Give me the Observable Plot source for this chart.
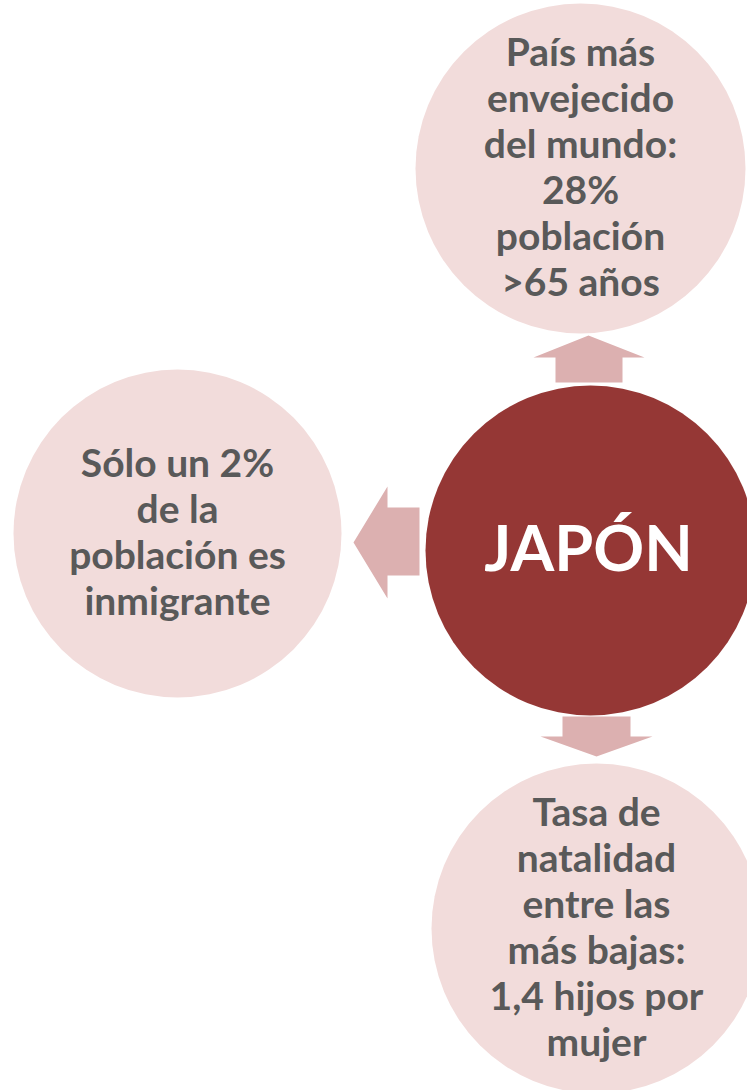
<!DOCTYPE html>
<html>
<head>
<meta charset="utf-8">
<script src="https://cdn.jsdelivr.net/npm/d3@7"></script>
<script src="https://cdn.jsdelivr.net/npm/@observablehq/plot@0.6"></script>
<style>
  html, body { margin: 0; padding: 0; background: #ffffff; }
  #chart svg { display: block; }
</style>
</head>
<body>
<div id="chart"></div>
<script>
// Nodes of the diagram
const nodeIds    = ["top", "left", "center", "bottom"];
const nodeX      = [580, 177, 590, 596];
const nodeY      = [168, 533, 550, 928];
const nodeR      = [165, 164, 165, 165];
const nodeFill   = ["#f2dcdb", "#f2dcdb", "#953735", "#f2dcdb"];
const nodeLabels = [
  "País más\nenvejecido\ndel mundo:\n28%\npoblación\n>65 años",
  "Sólo un 2%\nde la\npoblación es\ninmigrante",
  "JAPÓN",
  "Tasa de\nnatalidad\nentre las\nmás bajas:\n1,4 hijos por\nmujer"
];

// Block arrows (outline vertices)
const arrowUpX    = [555, 555, 533, 588, 644, 622, 622];
const arrowUpY    = [382, 357, 357, 335, 357, 357, 382];
const arrowLeftX  = [419, 387, 387, 353, 387, 387, 419];
const arrowLeftY  = [507, 507, 486, 542, 598, 575, 575];
const arrowDownX  = [562, 562, 540, 596, 652, 630, 630];
const arrowDownY  = [716, 736, 736, 756, 736, 736, 716];

const nodes = nodeIds.map((id, i) => ({id, x: nodeX[i], y: nodeY[i], r: nodeR[i], fill: nodeFill[i], label: nodeLabels[i]}));
const arrowPts = [];
[["up", arrowUpX, arrowUpY], ["left", arrowLeftX, arrowLeftY], ["down", arrowDownX, arrowDownY]]
  .forEach(([id, xs, ys]) => xs.forEach((x, i) => arrowPts.push({id, x, y: ys[i]})));

const outer = nodes.filter(d => d.id !== "center");
const center = nodes.filter(d => d.id === "center");

const chart = Plot.plot({
  width: 747,
  height: 1090,
  margin: 0,
  x: {domain: [0, 747], range: [0, 747], axis: null},
  y: {domain: [0, 1090], range: [0, 1090], axis: null},
  r: {type: "identity"},
  color: {type: "identity"},
  style: {background: "#ffffff"},
  marks: [
    Plot.dot(nodes, {x: "x", y: "y", r: "r", fill: "fill", stroke: null}),
    Plot.line(arrowPts, {x: "x", y: "y", z: "id", fill: "#dcb0b0", stroke: null, curve: "linear-closed"}),
    Plot.text(outer, {x: "x", y: "y", text: "label", fill: "#595959", fontSize: 39, fontWeight: 700,
      fontFamily: "Lato, 'Open Sans', sans-serif", lineHeight: 1.18, textAnchor: "middle", lineAnchor: "middle", dy: -2}),
    Plot.text(center, {x: "x", y: "y", text: "label", fill: "#ffffff", fontSize: 63, fontWeight: 700,
      fontFamily: "Lato, 'Open Sans', sans-serif", textAnchor: "middle", lineAnchor: "middle", dx: -2})
  ]
});
document.getElementById("chart").appendChild(chart);
</script>
</body>
</html>
